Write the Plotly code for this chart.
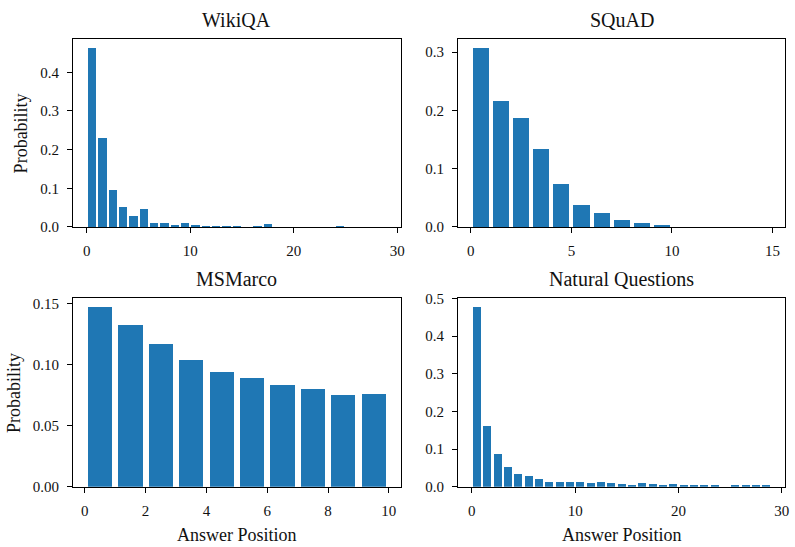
import plotly.graph_objects as go

# ---------------- data ----------------
wikiqa_probs = [0.463, 0.230, 0.095, 0.052, 0.027, 0.045, 0.011, 0.011, 0.006, 0.011,
                0.006, 0.0015, 0.0015, 0.0015, 0.0015, 0.0, 0.0015, 0.007, 0.0, 0.0,
                0.0, 0.0, 0.0, 0.0, 0.0015, 0.0, 0.0, 0.0, 0.0]
squad_probs = [0.307, 0.216, 0.186, 0.133, 0.073, 0.038, 0.023, 0.0116, 0.0066, 0.0017,
               0.0, 0.0, 0.0, 0.0, 0.0]
msmarco_probs = [0.1473, 0.1322, 0.1170, 0.1042, 0.0938, 0.0890, 0.0834, 0.0802, 0.0754, 0.0762]
nq_probs = [0.4765, 0.161, 0.086, 0.052, 0.034, 0.027, 0.019, 0.011, 0.011, 0.011,
            0.011, 0.0086, 0.011, 0.0086, 0.006, 0.0034, 0.0086, 0.006, 0.0034, 0.006,
            0.0034, 0.0034, 0.0034, 0.0034, 0.0, 0.0034, 0.0034, 0.0034, 0.0034]

titles = ["WikiQA", "SQuAD", "MSMarco", "Natural Questions"]
x_ticks = [[0, 10, 20, 30], [0, 5, 10, 15], [0, 2, 4, 6, 8, 10], [0, 10, 20, 30]]
y_ticks = [[0.0, 0.1, 0.2, 0.3, 0.4], [0.0, 0.1, 0.2, 0.3],
           [0.00, 0.05, 0.10, 0.15], [0.0, 0.1, 0.2, 0.3, 0.4, 0.5]]
y_formats = [".1f", ".1f", ".2f", ".1f"]
x_label = "Answer Position"
y_label = "Probability"

# ---------------- layout ----------------
W, H = 795, 547
BAR_COLOR = "#1f77b4"
FONT = "Liberation Serif"
TXT = "#111111"

# plot-area boxes in pixels (left, right, top, bottom)
boxes = [(73.3, 402.7, 32.0, 225.5), (460.3, 789.3, 32.0, 225.5),
         (73.3, 402.7, 299.0, 493.3), (460.3, 789.3, 299.0, 493.3)]

datasets = [wikiqa_probs, squad_probs, msmarco_probs, nq_probs]

fig = go.Figure()
layout = dict(width=W, height=H, margin=dict(l=0, r=0, t=0, b=0),
              paper_bgcolor="white", plot_bgcolor="white", showlegend=False,
              bargap=0, font=dict(family=FONT, color=TXT))
annotations = []

for k, probs in enumerate(datasets):
    n = len(probs)
    xs = [i + 0.5 for i in range(n)]
    sfx = "" if k == 0 else str(k + 1)
    fig.add_trace(go.Bar(x=xs, y=probs, width=0.8, marker=dict(color=BAR_COLOR, line=dict(width=0)),
                         xaxis="x" + sfx, yaxis="y" + sfx))
    lo, hi = 0.1, n - 0.1
    pad = 0.05 * (hi - lo)
    xr = [lo - pad, hi + pad]
    yr = [0, max(probs) * 1.05]
    l, r, t, b = boxes[k]
    common = dict(showline=True, mirror=True, linecolor="black", linewidth=1.1,
                  ticks="outside", ticklen=5, tickwidth=1.1, tickcolor="black",
                  showgrid=False, zeroline=False, ticklabelstandoff=5,
                  tickfont=dict(family=FONT, size=15, color=TXT))
    layout["xaxis" + sfx] = dict(common, domain=[l / W, r / W], range=xr,
                                 tickmode="array", tickvals=x_ticks[k],
                                 ticktext=[str(v) for v in x_ticks[k]],
                                 anchor="y" + sfx)
    layout["yaxis" + sfx] = dict(common, domain=[1 - b / H, 1 - t / H], range=yr,
                                 tickmode="array", tickvals=y_ticks[k],
                                 tickformat=y_formats[k], anchor="x" + sfx)
    # subplot title
    annotations.append(dict(text=titles[k], xref="paper", yref="paper",
                            x=(l + r) / 2 / W, y=1 - t / H, xanchor="center", yanchor="bottom",
                            yshift=6, showarrow=False,
                            font=dict(family=FONT, size=20, color=TXT)))
    if k in (2, 3):
        annotations.append(dict(text=x_label, xref="paper", yref="paper",
                                x=(l + r) / 2 / W, y=1 - b / H, xanchor="center", yanchor="top",
                                yshift=-36, showarrow=False,
                                font=dict(family=FONT, size=18, color=TXT)))
    if k in (0, 2):
        xc = 21.5 if k == 0 else 13.5
        annotations.append(dict(text=y_label, xref="paper", yref="paper",
                                x=xc / W, y=1 - (t + b) / 2 / H, xanchor="center", yanchor="middle",
                                textangle=-90, showarrow=False,
                                font=dict(family=FONT, size=18, color=TXT)))

layout["annotations"] = annotations
fig.update_layout(**layout)
fig.write_html("out.html")
